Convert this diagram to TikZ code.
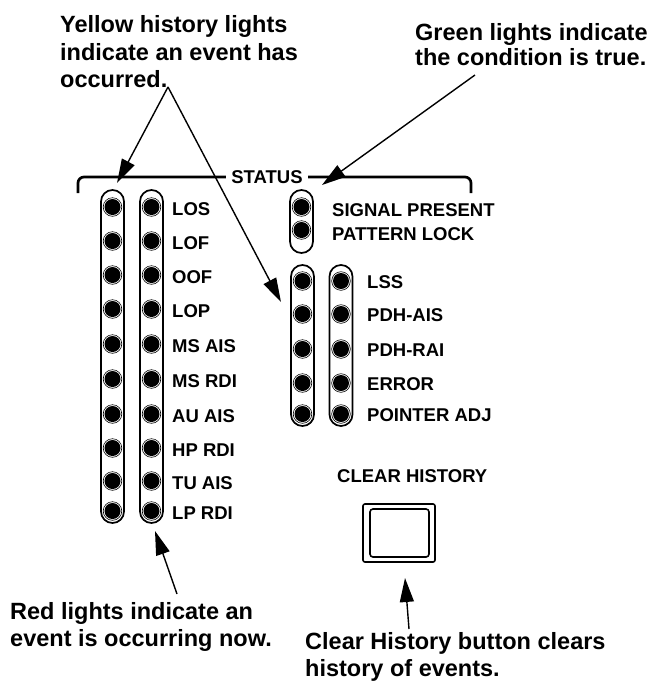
\documentclass[tikz,border=0pt]{standalone}
\usepackage{fontspec}
\setmainfont{Liberation Sans}
\usetikzlibrary{arrows.meta}
\begin{document}
\begin{tikzpicture}[x=1pt,y=-1pt,
  ann/.style={font=\fontsize{23.5}{27}\selectfont\bfseries, anchor=base west, inner sep=0pt},
  lbl/.style={font=\fontsize{18.5}{21}\selectfont\bfseries, anchor=west, inner sep=0pt},
  pill/.style={draw, line width=1.7pt, rounded corners=11.5pt, minimum width=23pt, inner sep=0pt},
  led/.style={circle, draw, line width=0.6pt, minimum size=18.6pt, inner sep=0pt,
    path picture={\fill (path picture bounding box.center) circle (8pt);}},
  arr/.style={line width=1.4pt, -{Triangle[length=24pt,width=14pt]}},
  bracket/.style={line width=2.7pt, rounded corners=6pt}]
\useasboundingbox (0,0) rectangle (649,681);
% annotation texts
\node[ann] (ya) at (60,32) {Yellow history lights};
\node[ann] (yb) at (60,60) {indicate an event has};
\node[ann] (yc) at (60,87) {occurred.};
\node[ann] (ga) at (415,40) {Green lights indicate};
\node[ann] (gb) at (415,65) {the condition is true.};
\node[ann] (ra) at (10,619) {Red lights indicate an};
\node[ann] (rb) at (10,646) {event is occurring now.};
\node[ann] (ca) at (305,649) {Clear History button clears};
\node[ann] (cb) at (305,676) {history of events.};
% status bracket
\draw[bracket] (78,193) -- (78,177) -- (471,177) -- (471,193);
\node[lbl, anchor=center, fill=white, inner xsep=5pt, inner ysep=2pt] (status) at (267,177) {STATUS};
% left column pills
\node[pill, minimum height=333pt] (p1) at (112.5,356.5) {};
\node[pill, minimum height=333pt] (p2) at (151.5,356.5) {};
\foreach \y/\t [count=\i] in {207/LOS,241/LOF,275/OOF,309/LOP,344/MS AIS,379/MS RDI,414/AU AIS,448/HP RDI,481/TU AIS,511/LP RDI} {
  \node[led] (yl\i) at (112.5,\y) {};
  \node[led] (rl\i) at (151.5,\y) {};
  \node[lbl] (lt\i) at (172,\y+2) {\t};
}
% signal pill
\node[pill, minimum height=63pt] (p3) at (301.5,221.5) {};
\node[led] (s1) at (301.5,207) {};
\node[led] (s2) at (301.5,230) {};
\node[lbl] (st1) at (332,210) {SIGNAL PRESENT};
\node[lbl] (st2) at (332,234) {PATTERN LOCK};
% second group
\node[pill, minimum height=161pt] (p4) at (302.5,345.5) {};
\node[pill, minimum height=161pt] (p5) at (341,345.5) {};
\foreach \y/\t [count=\i] in {281/LSS,314/PDH-AIS,349/PDH-RAI,383/ERROR,414/POINTER ADJ} {
  \node[led] (gy\i) at (302.5,\y) {};
  \node[led] (gr\i) at (341,\y) {};
  \node[lbl] (gt\i) at (367,\y+1) {\t};
}
% clear history
\node[lbl] (clr) at (337,476) {CLEAR HISTORY};
\node[draw, line width=1.6pt, rounded corners=2pt, minimum width=72pt, minimum height=58pt] (btn) at (399,533) {};
\node[draw, line width=1.6pt, rounded corners=3pt, minimum width=59pt, minimum height=48pt] (btnin) at (399.5,533) {};
% arrows
\coordinate (yapex) at (168,87);
\coordinate (ytip1) at (117,183);
\coordinate (ytip2) at (281,302);
\draw[arr] (yapex) -- (ytip1);
\draw[arr] (yapex) -- (ytip2);
\coordinate (gstart) at (475,75);
\coordinate (gtip) at (322,185);
\draw[arr] (gstart) -- (gtip);
\coordinate (rstart) at (177,594);
\coordinate (rtip) at (155,531);
\draw[arr] (rstart) -- (rtip);
\coordinate (cstart) at (409,629);
\coordinate (ctip) at (405,578);
\draw[arr] (cstart) -- (ctip);
\end{tikzpicture}
\end{document}
